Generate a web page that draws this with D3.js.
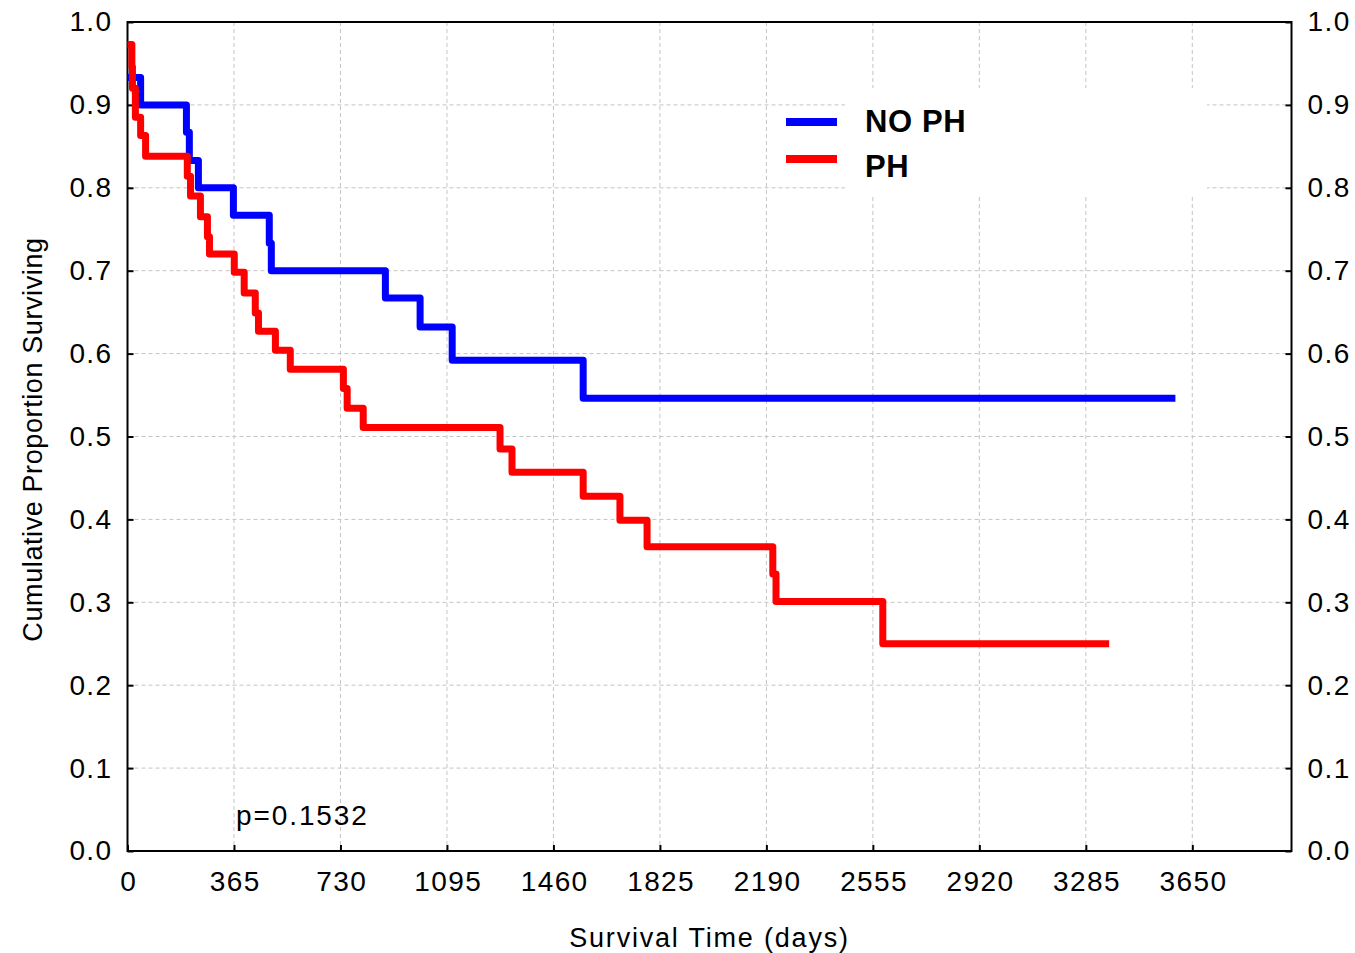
<!DOCTYPE html>
<html>
<head>
<meta charset="utf-8">
<script src="https://cdn.jsdelivr.net/npm/d3@7/dist/d3.min.js"></script>
<style>
  html, body { margin: 0; padding: 0; background: #fff; }
  svg { display: block; font-family: Arial, "Liberation Sans", sans-serif; }
</style>
</head>
<body>
<svg id="chart" width="1355" height="953"></svg>
<script>
// Kaplan-Meier step curves: event times (days) and cumulative survival
const noPhTimes = [0, 45, 202, 212, 243, 363, 486, 493, 884, 1003, 1113, 1562, 3592];
const noPhSurv  = [0.933, 0.9, 0.867, 0.833, 0.8, 0.767, 0.733, 0.7, 0.667, 0.632, 0.592, 0.546, 0.546];

const phTimes = [0, 15, 17, 27, 45, 62, 205, 216, 250, 274, 281, 366, 400, 438, 449, 507, 558,
                 740, 753, 808, 1277, 1318, 1562, 1688, 1781, 2212, 2223, 2589, 3365];
const phSurv  = [0.973, 0.946, 0.92, 0.885, 0.863, 0.838, 0.814, 0.79, 0.765, 0.741, 0.72, 0.698,
                 0.673, 0.649, 0.627, 0.604, 0.581, 0.558, 0.534, 0.511, 0.485, 0.457, 0.428,
                 0.399, 0.367, 0.334, 0.301, 0.25, 0.25];

const xTicks = [0, 365, 730, 1095, 1460, 1825, 2190, 2555, 2920, 3285, 3650];
const yTicks = [0, 0.1, 0.2, 0.3, 0.4, 0.5, 0.6, 0.7, 0.8, 0.9, 1.0];

const seriesNames = ["NO PH", "PH"];
const seriesColors = ["#0000ff", "#ff0000"];
const pValueText = "p=0.1532";

const svg = d3.select("#chart");
const plotL = 127.5, plotR = 1291.5, plotT = 22, plotB = 851;

const x = d3.scaleLinear().domain([0, 3990]).range([plotL, plotR]);
const y = d3.scaleLinear().domain([0, 1]).range([plotB, plotT]);

// dashed grid
const grid = svg.append("g").attr("stroke", "#c4c4c4").attr("stroke-width", 1)
  .attr("stroke-dasharray", "4,3");
grid.selectAll("line.v").data(xTicks.slice(1)).join("line").attr("class", "v")
  .attr("x1", d => x(d)).attr("x2", d => x(d)).attr("y1", plotT).attr("y2", plotB);
grid.selectAll("line.h").data(yTicks.slice(1, -1)).join("line").attr("class", "h")
  .attr("x1", plotL).attr("x2", plotR).attr("y1", d => y(d)).attr("y2", d => y(d));

// legend background hides the grid behind the labels
svg.append("rect").attr("x", 845).attr("y", 88).attr("width", 362).attr("height", 107)
  .attr("fill", "#fff");

// axes with inward ticks
const styleTicks = g => {
  g.select(".domain").remove();
  g.selectAll(".tick line").attr("stroke", "#000").attr("stroke-width", 2);
  g.selectAll(".tick text").attr("font-size", "28px").attr("letter-spacing", "1.4px").attr("fill", "#000")
    .attr("font-family", "Arial, 'Liberation Sans', sans-serif");
};
const xAxis = d3.axisBottom(x).tickValues(xTicks).tickSize(-6).tickPadding(20).tickFormat(d3.format("d"));
svg.append("g").attr("transform", `translate(0,${plotB})`).call(xAxis).call(styleTicks)
  .selectAll(".tick text").attr("dx", "0.7px");
const yLeft = d3.axisLeft(y).tickValues(yTicks).tickSize(-6).tickPadding(15).tickFormat(d3.format(".1f"));
svg.append("g").attr("transform", `translate(${plotL},0)`).call(yLeft).call(styleTicks);
const yRight = d3.axisRight(y).tickValues(yTicks).tickSize(-6).tickPadding(16).tickFormat(d3.format(".1f"));
svg.append("g").attr("transform", `translate(${plotR},0)`).call(yRight).call(styleTicks);

// frame
svg.append("rect").attr("x", plotL).attr("y", plotT).attr("width", plotR - plotL).attr("height", plotB - plotT)
  .attr("fill", "none").attr("stroke", "#000").attr("stroke-width", 2);

// survival curves
const line = d3.line().x(d => x(d[0])).y(d => y(d[1])).curve(d3.curveStepAfter);
const curves = [d3.zip(noPhTimes, noPhSurv), d3.zip(phTimes, phSurv)];
svg.append("g").selectAll("path").data(curves).join("path")
  .attr("d", line).attr("fill", "none")
  .attr("stroke", (d, i) => seriesColors[i])
  .attr("stroke-width", 7).attr("stroke-linejoin", "round");

// legend
const legend = svg.append("g");
seriesNames.forEach((name, i) => {
  const cy = 122 + i * 37;
  legend.append("line").attr("x1", 786).attr("x2", 837).attr("y1", cy).attr("y2", cy)
    .attr("stroke", seriesColors[i]).attr("stroke-width", 8);
  legend.append("text").attr("x", 865).attr("y", 132 + i * 45).attr("font-size", "31px")
    .attr("font-weight", "bold").attr("letter-spacing", "0.6px").attr("fill", "#000").text(name);
});

// annotation and titles
svg.append("text").attr("x", 236).attr("y", 825).attr("font-size", "28px")
  .attr("letter-spacing", "1.9px").attr("fill", "#000").text(pValueText);
svg.append("text").attr("x", (plotL + plotR) / 2).attr("y", 947).attr("text-anchor", "middle")
  .attr("font-size", "27px").attr("letter-spacing", "1.8px").attr("fill", "#000").text("Survival Time (days)");
svg.append("text").attr("transform", `translate(42,${(plotT + plotB) / 2 + 3}) rotate(-90)`)
  .attr("text-anchor", "middle").attr("font-size", "27px").attr("letter-spacing", "0.6px").attr("fill", "#000")
  .text("Cumulative Proportion Surviving");
</script>
</body>
</html>
